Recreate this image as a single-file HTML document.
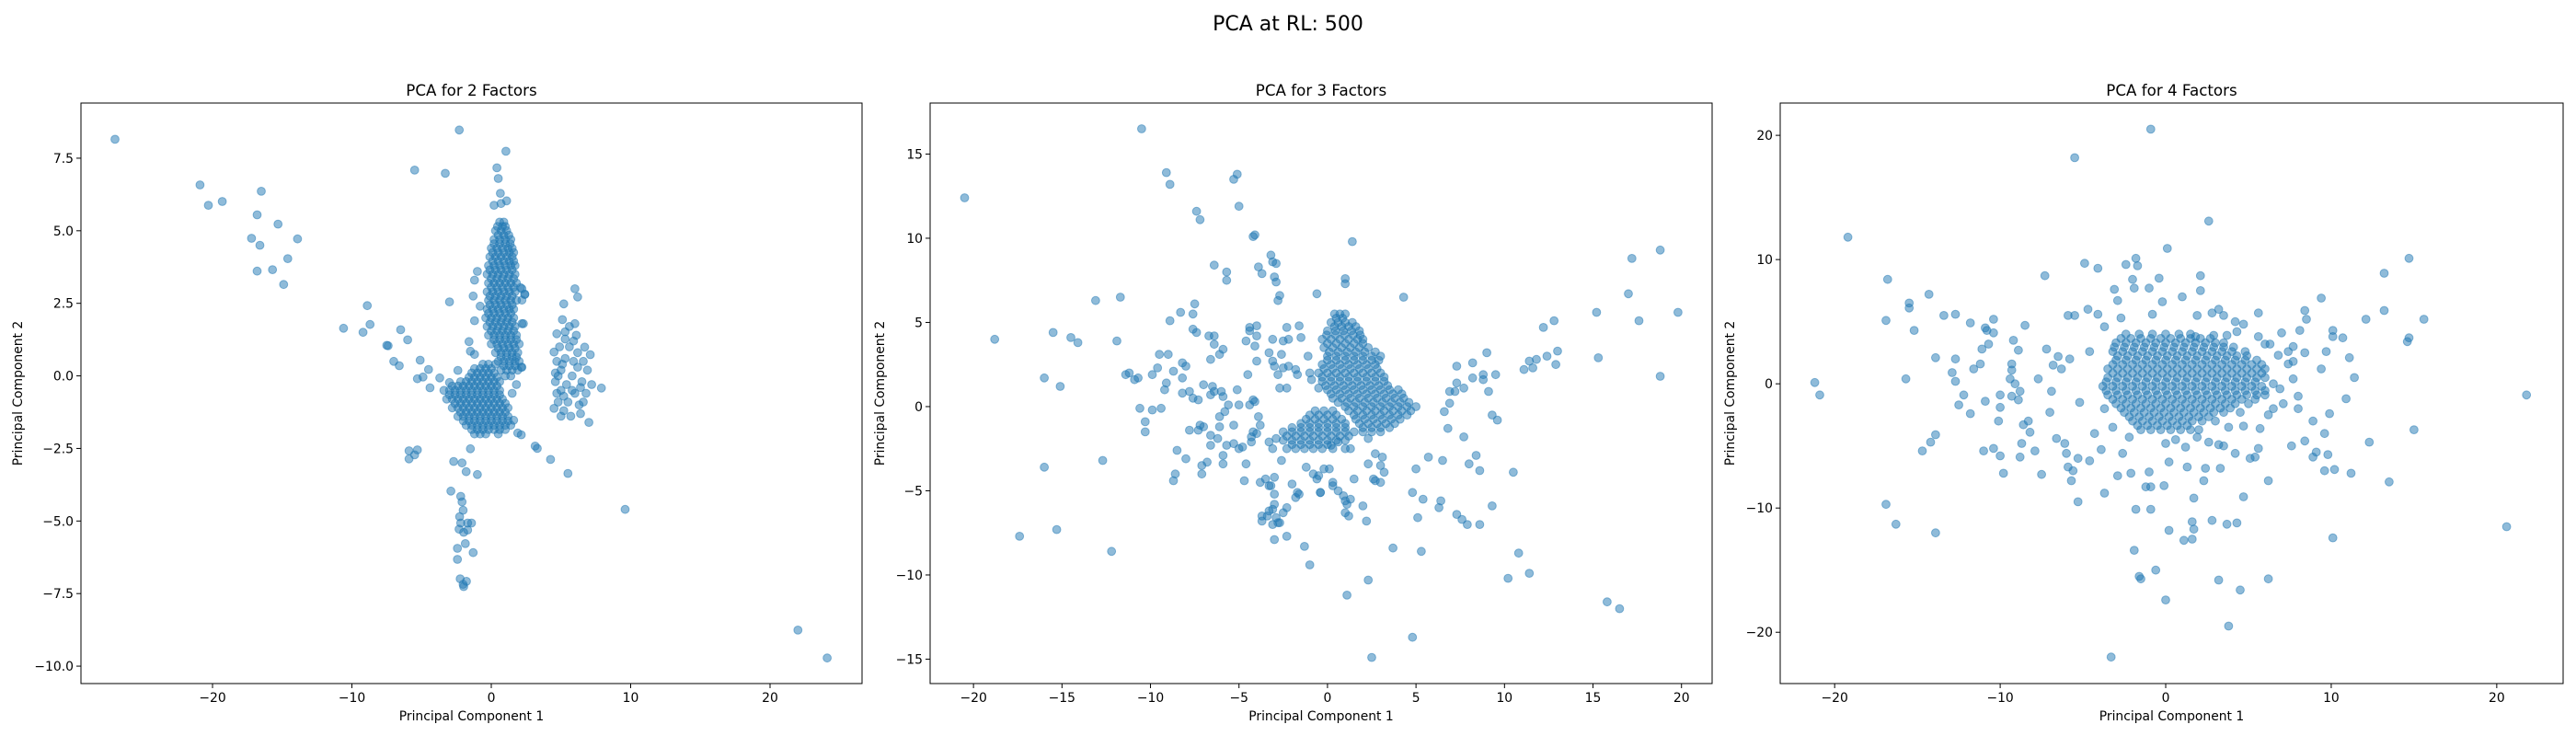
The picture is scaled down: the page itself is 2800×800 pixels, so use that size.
<!DOCTYPE html>
<html><head><meta charset="utf-8"><title>PCA at RL: 500</title>
<style>
html,body{margin:0;padding:0;background:#fff;}
svg{display:block;font-family:"DejaVu Sans","Liberation Sans",sans-serif;}
</style></head>
<body>
<svg id="fig" width="2800" height="800" viewBox="0 0 2800 800" xmlns="http://www.w3.org/2000/svg">
<rect width="2800" height="800" fill="#fff"/>
<text x="1400" y="33" text-anchor="middle" font-size="22">PCA at RL: 500</text>
</svg>
<script>
// ---------- Panel 1 (2 factors) data ----------
const p1Outliers = [[-27.0,8.15],[-2.3,8.47],[1.05,7.74],[-20.9,6.58],[-20.3,5.88],[-19.3,6.01],[-16.5,6.36],[-16.8,5.55],[-15.3,5.23],[-17.2,4.74],[-16.6,4.5],[-13.9,4.72],[-14.6,4.04],[-16.8,3.61],[-15.7,3.66],[-14.9,3.15],[-5.5,7.09],[-3.3,6.98],[0.4,7.17],[0.5,6.8],[0.65,6.29],[0.7,5.94],[0.2,5.88],[1.1,6.03],[-3.0,2.55],[-8.9,2.42],[-10.6,1.64],[-9.2,1.5],[-8.7,1.77],[-7.5,1.05],[-7.4,1.04],[-6.5,1.59],[-6.0,1.24],[-7.0,0.5],[-6.6,0.35],[-5.1,0.54],[-4.5,0.22],[-5.3,-0.1],[-4.9,-0.04],[-3.7,-0.07],[-4.4,-0.41],[-3.0,-0.23],[-2.4,0.19],[-1.6,1.18],[-1.5,0.85],[-1.2,0.74],[9.6,-4.6],[22.0,-8.76],[24.1,-9.72],[5.5,-3.36],[4.25,-2.88],[3.3,-2.5],[3.15,-2.42],[2.1,3.04],[2.4,2.82],[2.2,2.61],[2.2,1.8],[2.15,0.3],[1.9,-1.97],[2.15,-2.03],[1.6,-1.53],[-5.9,-2.58],[-5.3,-2.55],[-5.9,-2.86],[-5.5,-2.72],[-2.7,-2.95],[-2.1,-3.0],[-1.8,-3.3],[-1.0,-3.4],[-1.5,-2.51],[-2.9,-3.97],[-2.19,-4.15],[-2.1,-4.34],[-2.02,-4.63],[-2.27,-4.85],[-2.19,-5.07],[-1.98,-5.39],[-1.7,-5.07],[-1.42,-5.07],[-1.7,-5.31],[-2.31,-5.28],[-2.43,-5.94],[-1.86,-5.78],[-1.3,-6.09],[-2.43,-6.32],[-2.23,-6.99],[-2.02,-7.18],[-1.78,-7.08],[-1.98,-7.26],[-1.0,3.6],[-1.2,3.3],[-1.3,2.75],[-0.8,2.4],[-1.2,1.9],[2.2,3.0],[2.4,2.8],[2.3,1.8],[2.2,0.3],[1.8,-0.3],[1.5,-0.6]];
const p1Right = [[6.0,3.0],[6.2,2.72],[5.2,2.48],[5.1,1.94],[6.0,1.8],[4.7,1.45],[5.3,1.52],[5.3,1.27],[6.7,0.99],[7.1,0.73],[4.5,0.82],[7.9,-0.42],[7.0,-1.6],[4.5,-1.12],[5.0,-1.39],[5.7,-1.39],[4.7,0.5],[5.0,0.2],[5.3,0.6],[4.6,-0.2],[5.0,-0.5],[5.4,-0.3],[5.8,0.0],[6.2,0.3],[6.5,-0.2],[6.0,-0.6],[5.5,-0.9],[4.8,-0.9],[6.3,-1.0],[6.8,-0.6],[7.2,-0.3],[6.6,0.5],[6.2,0.8],[5.6,1.0],[4.9,1.0],[6.1,1.4],[5.6,1.7],[6.4,-1.3],[5.2,-1.2],[6.9,0.2],[4.6,0.1],[5.9,1.2],[6.4,-0.4],[4.8,0.0],[5.2,-0.7],[4.7,-0.6],[5.1,0.4],[5.8,-0.5],[6.6,-0.9],[5.9,0.5]];
const p1SpikeRows = [[5.3,[0.6,0.9]],[5.0,[0.3,0.7,1.1]],[4.7,[0.2,0.6,1.0,1.4]],[4.4,[0.0,0.4,0.8,1.2,1.5]],[4.1,[-0.1,0.3,0.7,1.1,1.5]],[3.8,[-0.2,0.2,0.6,1.0,1.4,1.7]],[3.5,[-0.3,0.1,0.5,0.9,1.3,1.7]],[3.2,[-0.2,0.2,0.6,1.0,1.4,1.8]],[2.9,[-0.3,0.1,0.5,0.9,1.3,1.7]],[2.6,[-0.2,0.2,0.6,1.0,1.4,1.8]],[2.3,[-0.3,0.1,0.5,0.9,1.3,1.6]],[2.0,[-0.4,0.0,0.4,0.8,1.2,1.6]],[1.7,[-0.3,0.1,0.5,0.9,1.3,1.7]],[1.4,[-0.2,0.2,0.6,1.0,1.4,1.8]],[1.1,[0.0,0.4,0.8,1.2,1.6,2.0]],[0.8,[0.3,0.7,1.1,1.5,1.9]],[0.5,[0.5,0.9,1.3,1.7,2.0]],[0.2,[0.7,1.1,1.5,1.9]]];
const p1SpikeRowsB = [[5.15,[0.45,0.8,1.0]],[4.85,[0.5,0.9,1.25]],[4.55,[0.2,0.6,1.0,1.35]],[4.25,[0.1,0.5,0.9,1.3,1.6]],[3.95,[0.1,0.5,0.9,1.3,1.6]],[3.65,[-0.1,0.3,0.7,1.1,1.5]],[3.35,[0.0,0.4,0.8,1.2,1.6]],[3.05,[0.0,0.4,0.8,1.2,1.6]],[2.75,[-0.1,0.3,0.7,1.1,1.5]],[2.45,[-0.1,0.3,0.7,1.1,1.5]],[2.15,[-0.2,0.2,0.6,1.0,1.4]],[1.85,[-0.1,0.3,0.7,1.1,1.5]],[1.55,[0.0,0.4,0.8,1.2,1.6]],[1.25,[0.2,0.6,1.0,1.4,1.8]],[0.95,[0.5,0.9,1.3,1.7]],[0.65,[0.7,1.1,1.5,1.8]],[0.35,[0.9,1.3,1.7]],[0.0,[1.0,1.4]]];
const p1BlobRows = [[0.4,[-0.6,-0.2,0.3]],[0.1,[-1.4,-1.0,-0.6,-0.2,0.2]],[-0.2,[-2.2,-1.8,-1.4,-1.0,-0.6,-0.2,0.2,0.6]],[-0.5,[-3.4,-3.0,-2.6,-2.2,-1.8,-1.4,-1.0,-0.6,-0.2,0.2,0.6]],[-0.8,[-3.2,-2.8,-2.4,-2.0,-1.6,-1.2,-0.8,-0.4,0.0,0.4,0.8]],[-1.1,[-2.8,-2.4,-2.0,-1.6,-1.2,-0.8,-0.4,0.0,0.4,0.8,1.2]],[-1.4,[-2.4,-2.0,-1.6,-1.2,-0.8,-0.4,0.0,0.4,0.8,1.2]],[-1.7,[-1.8,-1.4,-1.0,-0.6,-0.2,0.2,0.6,1.0,1.4]],[-2.0,[-1.2,-0.8,-0.4,0.5]]];
const p1BlobRowsB = [[0.25,[-1.2,-0.8,-0.4,0.0]],[-0.05,[-1.6,-1.2,-0.8,-0.4,0.0,0.4]],[-0.35,[-2.8,-2.4,-2.0,-1.6,-1.2,-0.8,-0.4,0.0,0.4]],[-0.65,[-3.0,-2.6,-2.2,-1.8,-1.4,-1.0,-0.6,-0.2,0.2,0.6]],[-0.95,[-2.6,-2.2,-1.8,-1.4,-1.0,-0.6,-0.2,0.2,0.6,1.0]],[-1.25,[-2.2,-1.8,-1.4,-1.0,-0.6,-0.2,0.2,0.6,1.0]],[-1.55,[-2.0,-1.6,-1.2,-0.8,-0.4,0.0,0.4,0.8,1.2]],[-1.85,[-1.4,-1.0,-0.6,-0.2,0.2,0.6,1.0]]];
const p1XTicks = [-20,-10,0,10,20];
const p1YTicks = [-10,-7.5,-5,-2.5,0,2.5,5,7.5];

// ---------- Panel 2 (3 factors) data ----------
const p2Outliers = [[-20.5,12.4],[-10.5,16.5],[-9.1,13.9],[-8.9,13.2],[-5.3,13.5],[-5.1,13.8],[-5.0,11.9],[-7.4,11.6],[-7.2,11.1],[-4.2,10.1],[-4.1,10.2],[1.4,9.8],[-3.2,9.0],[-3.1,8.6],[-2.9,8.5],[-3.9,8.3],[-3.7,7.9],[-3.0,7.7],[-2.9,7.4],[-6.4,8.4],[-5.7,8.0],[-5.7,7.5],[1.0,7.6],[1.0,7.3],[-2.7,6.6],[-2.8,6.3],[-0.6,6.7],[4.3,6.5],[-13.1,6.3],[-11.7,6.5],[-7.5,6.1],[-18.8,4.0],[-15.5,4.4],[-14.5,4.1],[-14.1,3.8],[-11.9,3.9],[-16.0,1.7],[-15.1,1.2],[-16.0,-3.6],[-17.4,-7.7],[-15.3,-7.3],[-12.2,-8.6],[-12.7,-3.2],[15.2,5.6],[15.3,2.9],[17.0,6.7],[17.2,8.8],[17.6,5.1],[18.8,9.3],[19.8,5.6],[18.8,1.8],[15.8,-11.6],[16.5,-12.0],[4.8,-13.7],[2.5,-14.9],[1.1,-11.2],[2.3,-10.3],[10.2,-10.2],[11.4,-9.9],[10.8,-8.7],[3.7,-8.4],[5.3,-8.6],[-1.0,-9.4],[-1.3,-8.3],[-2.3,-7.7],[-3.0,-7.9],[12.8,5.1],[12.2,4.7],[13.0,3.3],[12.9,2.5],[12.4,3.0],[11.8,2.8]];
const p2Scatter = [[11.4,2.7],[11.1,2.2],[11.6,2.3],[9.5,1.9],[8.8,1.9],[8.2,2.6],[9.0,3.2],[7.3,2.4],[7.3,1.4],[6.9,0.9],[8.2,1.7],[9.1,0.9],[9.3,-0.5],[9.6,-0.8],[7.7,-1.8],[8.4,-2.9],[8.0,-3.4],[8.6,-3.8],[10.5,-3.9],[9.3,-5.9],[8.6,-7.0],[7.9,-7.0],[7.6,-6.7],[7.3,-6.4],[6.3,-6.0],[6.4,-5.6],[6.5,-3.2],[5.7,-3.0],[5.4,-5.5],[5.1,-6.6],[4.8,-5.1],[5.0,-3.7],[6.8,-1.3],[6.6,-0.3],[7.2,0.9],[6.9,0.2],[7.7,1.1],[8.8,1.6],
[-11.4,1.9],[-11.2,2.0],[-10.9,1.6],[-10.7,1.7],[-9.9,1.9],[-9.6,2.3],[-9.5,3.1],[-9.0,3.1],[-9.1,1.4],[-9.2,1.0],[-10.6,-0.1],[-9.9,-0.2],[-9.4,-0.1],[-10.3,-0.9],[-10.3,-1.5],[-8.5,-2.6],[-8.6,-4.0],[-8.7,-4.4],[-8.0,-3.1],[-7.1,-3.5],[-7.1,-4.0],[-6.8,-3.3],[-6.6,-1.7],[-6.6,-2.3],[-7.8,-1.4],[-7.3,-1.4],[-7.2,-1.1],[-7.0,-1.2],[-8.2,0.8],[-7.8,0.9],[-7.3,0.4],[-7.6,0.5],[-8.2,1.7],[-8.2,2.6],[-8.0,2.4],[-8.7,2.1],[-8.9,5.1],[-8.3,5.6],[-7.6,5.5],[-7.4,4.4],[-7.6,4.6],[-6.7,4.2],[-6.4,4.2],[-6.4,3.7],[-6.1,3.1],[-5.9,3.4],[-6.6,2.8],[-7.0,1.3],[-6.5,1.2],[-6.4,0.9],[-6.6,0.7],[-6.0,0.9],[-5.9,0.6],[-5.8,-0.3],[-5.6,0.1],[-6.1,-0.6],[-6.1,-1.2],[-6.2,-1.9],[-5.7,-2.3],[-5.9,-2.9],[-5.9,-3.4],[-5.3,-1.1],[-5.3,-2.2],[-5.0,-2.5],[-4.6,-3.4],[-4.7,-4.4],[-4.8,-2.4],[-4.3,-2.1],[-4.3,-1.8],[-4.0,-1.6],[-3.9,-0.6],[-3.8,-1.1],[-4.2,-1.5],[-4.4,0.1],[-5.0,0.1],[-5.1,1.0],[-4.5,1.9],[-4.6,3.9],[-4.4,4.7],[-4.0,4.8],[-4.4,4.5],[-4.0,4.2],[-4.1,3.6],[-4.0,2.7],[-4.1,0.3],[-4.2,0.4],[-3.8,-4.5],[-3.5,-4.3],[-3.3,-4.7],[-3.2,-4.7],[-3.0,-5.2],[-3.0,-5.8],[-3.1,-6.1],[-3.3,-6.2],[-3.7,-6.5],[-3.7,-6.8],[-3.4,-6.5],[-3.1,-7.0],[-2.9,-6.6],[-2.8,-6.9],[-2.7,-6.9],[-2.5,-6.3],[-2.3,-6.0],[-2.0,-4.6],[-1.8,-5.4],[-1.7,-5.1],[-1.6,-5.2],[-3.3,-2.1],[-3.1,-2.5],[-2.9,-1.9],[-3.0,-4.2],[-2.6,-3.2],[-3.1,4.0],[-2.3,4.7],[-2.2,4.0],[-2.5,3.9],[-1.5,4.1],[-1.6,4.8],[-2.6,3.1],[-2.5,2.3],[-3.1,2.7],[-3.3,3.2],[-3.0,2.4],[-2.2,2.4],[-1.8,2.2],[-1.7,1.9],[-1.1,3.0],[-1.0,2.0],[-0.9,1.6],[-0.5,1.1],[-2.3,1.1],[-2.7,1.1],[-2.8,1.9],[-1.2,-3.6],[-0.8,-4.0],[-0.6,-4.3],[-0.5,-4.1],[-0.4,-5.1],[-0.4,-5.1],[-0.2,-3.7],[0.1,-3.7],[0.3,-4.5],[0.3,-4.7],[0.6,-5.0],[0.9,-5.3],[1.0,-5.6],[1.1,-5.8],[1.0,-6.3],[1.2,-6.5],[1.3,-5.5],[1.5,-4.3],[2.0,-5.9],[2.2,-6.8],[2.3,-3.4],[2.6,-4.3],[2.7,-4.4],[3.0,-4.5],[3.0,-3.5],[3.1,-3.0],[3.2,-3.9],[2.3,-1.9],[2.7,-2.8],[1.3,-2.5],[1.0,-2.5],[0.6,-2.1],[0.2,-2.3]];
const p2DenseRows = [[5.5,[0.4,0.7,1.0]],[5.0,[0.2,0.6,1.0,1.4]],[4.5,[0.0,0.45,0.9,1.35,1.8]],[4.0,[-0.3,0.2,0.7,1.2,1.7,2.0]],[3.5,[-0.2,0.3,0.8,1.3,1.8,2.3]],[3.0,[0.0,0.5,1.0,1.5,2.0,2.5,3.0]],[2.5,[-0.3,0.2,0.7,1.2,1.7,2.2,2.7]],[2.0,[-0.5,0.0,0.5,1.0,1.5,2.0,2.5,3.0]],[1.5,[-0.3,0.2,0.7,1.2,1.7,2.2,2.7,3.2]],[1.0,[0.0,0.5,1.0,1.5,2.0,2.5,3.0,3.5,4.0]],[0.5,[0.3,0.8,1.3,1.8,2.3,2.8,3.3,3.8,4.3]],[0.0,[1.0,1.5,2.0,2.5,3.0,3.5,4.0,4.5,5.0]],[-0.5,[-1.0,-0.5,0.0,0.5,1.5,2.0,2.5,3.0,3.5,4.0,4.5]],[-1.0,[-1.5,-1.0,-0.5,0.0,0.5,1.0,1.8,2.3,2.8,3.3,3.8]],[-1.5,[-2.5,-2.0,-1.5,-1.0,-0.5,0.0,0.5,1.0,1.5,2.0,2.5,3.0]],[-2.0,[-2.5,-2.0,-1.5,-1.0,-0.5,0.0,0.5,1.0]],[-2.5,[-2.3,-1.8,-1.3,-0.8,-0.3,0.3]]];
const p2DenseRowsB = [[5.25,[0.5,0.85]],[4.75,[0.4,0.8,1.2,1.6]],[4.25,[-0.05,0.45,0.95,1.45,1.85]],[3.75,[0.0,0.5,1.0,1.5,2.0]],[3.25,[0.1,0.6,1.1,1.6,2.1,2.7]],[2.75,[0.0,0.5,1.0,1.5,2.0,2.5,2.9]],[2.25,[-0.2,0.3,0.8,1.3,1.8,2.3,2.8]],[1.75,[-0.3,0.2,0.7,1.2,1.7,2.2,2.7,3.2]],[1.25,[-0.1,0.4,0.9,1.4,1.9,2.4,2.9,3.4]],[0.75,[0.2,0.7,1.2,1.7,2.2,2.7,3.2,3.7,4.2]],[0.25,[0.6,1.1,1.6,2.1,2.6,3.1,3.6,4.1,4.6]],[-0.25,[-0.7,-0.2,0.3,1.2,1.7,2.2,2.7,3.2,3.7,4.2,4.7]],[-0.75,[-1.2,-0.7,-0.2,0.3,0.8,1.6,2.1,2.6,3.1,3.6,4.1]],[-1.25,[-2.0,-1.5,-1.0,-0.5,0.0,0.5,1.0,2.0,2.5,3.0,3.5]],[-1.75,[-2.3,-1.8,-1.3,-0.8,-0.3,0.2,0.7,1.2]],[-2.25,[-2.0,-1.5,-1.0,-0.5,0.0]]];
const p2XTicks = [-20,-15,-10,-5,0,5,10,15,20];
const p2YTicks = [-15,-10,-5,0,5,10,15];

// ---------- Panel 3 (4 factors) data ----------
const p3Outliers = [[-0.9,20.5],[-5.5,18.2],[2.6,13.1],[-19.2,11.8],[0.1,10.9],[14.7,10.1],[13.2,8.9],[13.2,5.9],[15.6,5.2],[12.1,5.2],[9.4,6.9],[-21.2,0.1],[-20.9,-0.9],[21.8,-0.9],[20.6,-11.5],[10.1,-12.4],[15.0,-3.7],[13.5,-7.9],[12.3,-4.7],[11.2,-7.2],[10.9,-1.2],[11.4,0.5],[11.1,2.1],[10.7,3.7],[10.1,3.8],[10.1,4.3],[9.7,2.6],[9.4,1.2],[9.9,-2.4],[9.6,-4.0],[9.6,-7.0],[10.2,-6.9],[9.8,-5.7],[9.1,-5.5],[8.9,-5.9],[8.9,-3.0],[8.4,-4.6],[8.0,-2.0],[8.4,2.5],[8.4,5.9],[8.5,5.2],[8.1,4.3],[7.7,3.0],[7.4,2.6],[7.7,0.4],[8.0,-1.0],[7.6,-5.0],[7.0,4.1],[14.6,3.4],[14.7,3.7],[-3.3,-22.0],[3.8,-19.5],[4.5,-16.6],[0.0,-17.4],[3.2,-15.8],[6.2,-15.7],[-1.6,-15.5],[-1.5,-15.7],[-0.6,-15.0],[-1.9,-13.4],[0.2,-11.8],[1.1,-12.6],[1.6,-12.5],[1.7,-11.7],[1.6,-11.1],[2.8,-11.0],[3.7,-11.3],[4.3,-11.2],[4.7,-9.1],[1.7,-9.2],[2.3,-7.8],[1.3,-6.7],[2.4,-6.8],[3.3,-6.8],[6.2,-7.8],[5.1,-6.0],[-1.8,-10.1],[-0.9,-10.1],[-0.1,-8.2],[-0.9,-8.3],[-1.2,-8.3],[-3.7,-8.8],[-2.9,-7.4],[-2.1,-7.2],[-1.0,-7.1],[0.2,-6.3]];
const p3Scatter = [[-16.8,8.4],[-16.9,5.1],[-15.5,6.5],[-15.5,6.1],[-15.2,4.3],[-14.3,7.2],[-13.4,5.5],[-12.7,5.6],[-11.8,4.9],[-10.4,5.2],[-10.9,4.5],[-10.8,4.3],[-10.4,4.1],[-10.7,3.2],[-11.1,2.8],[-13.9,2.1],[-12.7,2.0],[-15.7,0.4],[-12.9,0.9],[-12.7,0.2],[-11.6,1.2],[-11.2,1.6],[-12.2,-0.9],[-12.5,-1.7],[-11.8,-2.4],[-10.9,-1.4],[-10.0,-0.9],[-10.0,-1.9],[-10.1,-3.0],[-9.2,3.5],[-8.9,2.7],[-8.5,4.7],[-9.3,1.6],[-9.3,1.1],[-9.4,0.4],[-9.1,0.0],[-8.8,-0.6],[-9.3,-1.0],[-8.9,-1.3],[-8.6,-3.3],[-8.3,-3.0],[-8.2,-3.9],[-8.7,-4.8],[-8.8,-5.9],[-7.9,-5.4],[-7.5,-7.3],[-9.8,-7.2],[-10.0,-5.8],[-10.4,-5.2],[-11.0,-5.4],[-16.9,-9.7],[-16.3,-11.3],[-13.9,-12.0],[-14.2,-4.7],[-13.9,-4.1],[-14.7,-5.4],[-7.7,0.4],[-7.3,8.7],[-7.2,2.8],[-7.0,-2.3],[-6.9,-0.6],[-6.8,1.5],[-6.6,-4.4],[-6.5,2.2],[-6.3,1.2],[-6.1,-4.8],[-6.0,-5.6],[-5.9,5.5],[-5.9,-6.7],[-5.7,-7.8],[-5.6,-7.0],[-5.5,5.5],[-5.3,-9.5],[-5.3,-6.0],[-4.9,9.7],[-4.7,6.0],[-4.6,-6.2],[-4.1,9.3],[-4.1,5.6],[-3.7,4.6],[-3.7,-2.0],[-3.2,-3.5],[-3.1,7.6],[-2.9,6.7],[-2.7,5.3],[-2.4,9.6],[-1.9,7.7],[-1.8,10.1],[-1.7,9.5],[-2.0,8.4],[-1.0,7.7],[-0.4,8.5],[-0.8,5.6],[-0.2,6.6],[1.0,7.0],[2.1,8.7],[2.1,7.5],[1.9,5.5],[1.8,3.8],[2.9,3.9],[3.2,6.0],[3.5,5.5],[2.8,5.7],[3.7,3.9],[4.2,5.0],[4.7,4.8],[4.3,4.2],[5.6,5.7],[5.6,3.8],[6.0,3.2],[6.3,3.2],[6.8,2.3],[7.4,1.6],[7.7,1.8],[6.5,0.0],[6.9,-0.4],[7.1,-1.6],[6.5,-2.0],[6.2,-2.5],[5.7,-3.6],[5.6,-5.2],[5.4,-5.9],[4.7,-3.4],[4.2,-5.6],[3.8,-3.5],[3.5,-5.0],[3.2,-4.9],[2.6,-4.7],[1.9,-4.3],[1.2,-5.1],[0.6,-4.5],[0.0,-4.8],[-5.8,2.0],[-5.2,-1.5],[-4.6,2.6],[-4.3,-4.0],[-3.9,-5.3],[-2.6,-5.6],[-2.2,-4.3]];
const p3DenseRows = [[4.0,[-2.4,-1.6,-0.8,0.0,0.8,1.5]],[3.3,[-3.0,-2.4,-1.8,-1.2,-0.6,0.0,0.6,1.2,1.8,2.4,3.0,3.5]],[2.6,[-3.2,-2.6,-2.0,-1.4,-0.8,-0.2,0.4,1.0,1.6,2.2,2.8,3.4,4.0,4.8]],[1.9,[-3.0,-2.4,-1.8,-1.2,-0.6,0.0,0.6,1.2,1.8,2.4,3.0,3.6,4.2,4.8,5.5]],[1.2,[-3.5,-2.9,-2.3,-1.7,-1.1,-0.5,0.1,0.7,1.3,1.9,2.5,3.1,3.7,4.3,4.9,5.5,6.0]],[0.5,[-3.5,-2.9,-2.3,-1.7,-1.1,-0.5,0.1,0.7,1.3,1.9,2.5,3.1,3.7,4.3,4.9,5.5,6.0]],[-0.2,[-3.8,-3.2,-2.6,-2.0,-1.4,-0.8,-0.2,0.4,1.0,1.6,2.2,2.8,3.4,4.0,4.6,5.2,5.8]],[-0.9,[-3.5,-2.9,-2.3,-1.7,-1.1,-0.5,0.1,0.7,1.3,1.9,2.5,3.1,3.7,4.3,4.9,5.5,6.0]],[-1.6,[-3.0,-2.4,-1.8,-1.2,-0.6,0.0,0.6,1.2,1.8,2.4,3.0,3.6,4.2,5.0]],[-2.3,[-2.5,-1.9,-1.3,-0.7,-0.1,0.5,1.1,1.7,2.3,2.9,3.5,4.5]],[-3.0,[-2.0,-1.4,-0.8,-0.2,0.4,1.0,1.6,2.2,3.0]],[-3.7,[-1.5,-0.9,-0.3,0.3,0.9,1.5,2.0]]];
const p3DenseRowsB = [[3.65,[-2.7,-2.1,-1.5,-0.9,-0.3,0.3,0.9,1.5,2.1,2.7]],[2.95,[-3.1,-2.5,-1.9,-1.3,-0.7,-0.1,0.5,1.1,1.7,2.3,2.9,3.5,4.1]],[2.25,[-2.9,-2.3,-1.7,-1.1,-0.5,0.1,0.7,1.3,1.9,2.5,3.1,3.7,4.3,4.9]],[1.55,[-3.2,-2.6,-2.0,-1.4,-0.8,-0.2,0.4,1.0,1.6,2.2,2.8,3.4,4.0,4.6,5.2,5.8]],[0.85,[-3.2,-2.6,-2.0,-1.4,-0.8,-0.2,0.4,1.0,1.6,2.2,2.8,3.4,4.0,4.6,5.2,5.8]],[0.15,[-3.6,-3.0,-2.4,-1.8,-1.2,-0.6,0.0,0.6,1.2,1.8,2.4,3.0,3.6,4.2,4.8,5.4]],[-0.55,[-3.6,-3.0,-2.4,-1.8,-1.2,-0.6,0.0,0.6,1.2,1.8,2.4,3.0,3.6,4.2,4.8,5.4,6.0]],[-1.25,[-3.2,-2.6,-2.0,-1.4,-0.8,-0.2,0.4,1.0,1.6,2.2,2.8,3.4,4.0,4.6,5.4]],[-1.95,[-2.7,-2.1,-1.5,-0.9,-0.3,0.3,0.9,1.5,2.1,2.7,3.3,3.9]],[-2.65,[-2.2,-1.6,-1.0,-0.4,0.2,0.8,1.4,2.0,2.6]],[-3.35,[-1.7,-1.1,-0.5,0.1,0.7,1.3]]];
const p3XTicks = [-20,-10,0,10,20];
const p3YTicks = [-20,-10,0,10,20];

const NS = 'http://www.w3.org/2000/svg';
const svg = document.getElementById('fig');
function mk(tag, attrs, parent){ const e=document.createElementNS(NS,tag); for(const k in attrs) e.setAttribute(k,attrs[k]); (parent||svg).appendChild(e); return e; }
function fmt(v, dec){ let s = (Math.round(v*10)/10).toString(); if (dec && s.indexOf('.')<0) s += '.0'; return s.replace('-', '\u2212'); }

function expandRows(rows){ const out=[]; rows.forEach(r=>r[1].forEach(x=>out.push([x,r[0]]))); return out; }

function drawPanel(id, title, box, xdom, ydom, xt, yt, dec, pointSets){
  const g = mk('g',{});
  
  
  const L=box[0], R=box[1], T=box[2], B=box[3];
  const sx = v => L + (v - xdom[0])/(xdom[1]-xdom[0])*(R-L);
  const sy = v => B - (v - ydom[0])/(ydom[1]-ydom[0])*(B-T);
  const pg = mk('g',{}, g);
  
  
  pointSets.forEach(set => set.forEach(p => {
    const c = mk('circle',{cx:sx(p[0]).toFixed(1), cy:sy(p[1]).toFixed(1), r:4.4, fill:'#1f77b4', 'fill-opacity':0.5, stroke:'#1f77b4', 'stroke-opacity':0.5, 'stroke-width':1}, pg);
    
    
  }));
  const fr = mk('rect',{x:L,y:T,width:R-L,height:B-T,fill:'none',stroke:'#000','stroke-width':1}, g);
  
  
  xt.forEach(v => {
    const x = sx(v);
    mk('line',{x1:x,x2:x,y1:B,y2:B+5,stroke:'#000','stroke-width':1}, g);
    const t = mk('text',{x:x,y:B+20,'text-anchor':'middle','font-size':13.9}, g);
    t.textContent = fmt(v, false);
    
    
  });
  yt.forEach(v => {
    const y = sy(v);
    mk('line',{x1:L-5,x2:L,y1:y,y2:y,stroke:'#000','stroke-width':1}, g);
    const t = mk('text',{x:L-8,y:y+5,'text-anchor':'end','font-size':13.9}, g);
    t.textContent = fmt(v, dec);
    
    
  });
  const tt = mk('text',{x:(L+R)/2,y:T-8,'text-anchor':'middle','font-size':16.7}, g);
  tt.textContent = title;
  
  
  const xl = mk('text',{x:(L+R)/2,y:B+40,'text-anchor':'middle','font-size':13.9}, g);
  xl.textContent = 'Principal Component 1';
  
  
  const yx = L - (dec ? 64 : 50), yy=(T+B)/2;
  const yl = mk('text',{x:yx,y:yy,'text-anchor':'middle','font-size':13.9,transform:'rotate(-90 '+yx+' '+yy+')'}, g);
  yl.textContent = 'Principal Component 2';
  
  
}

drawPanel('panel-2-factors','PCA for 2 Factors',[88,937,112,743],[-29.44,26.6],[-10.6,9.4],p1XTicks,p1YTicks,true,
  [p1Outliers,p1Right,expandRows(p1SpikeRows),expandRows(p1SpikeRowsB),expandRows(p1BlobRows),expandRows(p1BlobRowsB)]);
drawPanel('panel-3-factors','PCA for 3 Factors',[1011,1861,112,743],[-22.45,21.73],[-16.45,18.03],p2XTicks,p2YTicks,false,
  [p2Outliers,p2Scatter,expandRows(p2DenseRows),expandRows(p2DenseRowsB)]);
drawPanel('panel-4-factors','PCA for 4 Factors',[1935,2786,112,743],[-23.29,24.01],[-24.13,22.6],p3XTicks,p3YTicks,false,
  [p3Outliers,p3Scatter,expandRows(p3DenseRows),expandRows(p3DenseRowsB)]);
</script>
</body></html>
